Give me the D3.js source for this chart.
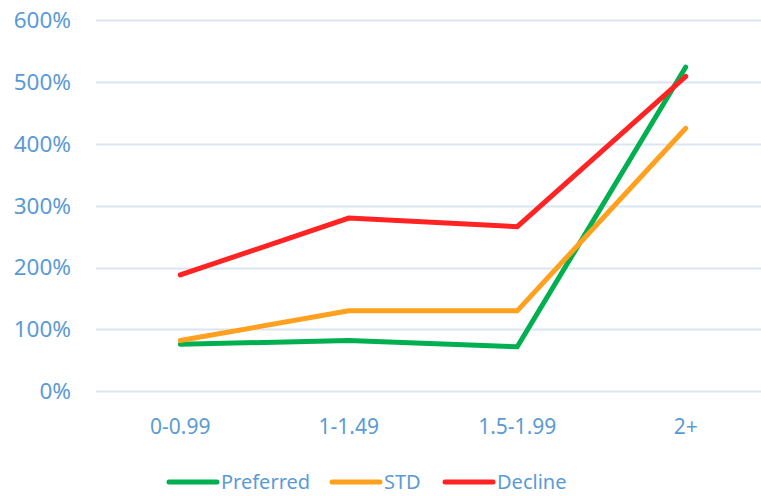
<!doctype html>
<html>

<head>
    <meta charset="utf-8">
    <title>Chart</title>
    <style>
        body {
            margin: 0;
            background: #fff;
        }

        svg text {
            font-family: "Noto Sans", sans-serif;
            fill: #5b9bd5;
        }
    </style>
    <script src="https://cdn.jsdelivr.net/npm/d3@7"></script>
</head>

<body>
    <svg width="761" height="496"></svg>
    <script>
        var categories = ["0-0.99", "1-1.49", "1.5-1.99", "2+"];
        var preferred = [76, 82, 72, 524];
        var std = [82, 130, 130, 425];
        var decline = [188, 280, 266, 509];
        var yTicks = [0, 100, 200, 300, 400, 500, 600];

        var series = [
            { name: "Preferred", values: preferred, color: "#00b050" },
            { name: "STD", values: std, color: "#ffa01e" },
            { name: "Decline", values: decline, color: "#ff2323" }
        ];

        var svg = d3.select("svg");

        var x = d3.scaleBand().domain(categories).range([96, 770]);
        var y = d3.scaleLinear().domain([0, 600]).range([391.3, 20]);

        // gridlines
        svg.append("g")
            .selectAll("line")
            .data(yTicks)
            .enter().append("line")
            .attr("x1", 96)
            .attr("x2", 770)
            .attr("y1", function (d) { return Math.round(y(d)) + 0.5; })
            .attr("y2", function (d) { return Math.round(y(d)) + 0.5; })
            .attr("stroke", "#dae5f2")
            .attr("stroke-width", 2);

        // y labels
        svg.append("g")
            .selectAll("text")
            .data(yTicks)
            .enter().append("text")
            .attr("x", 71)
            .attr("y", function (d) { return y(d); })
            .attr("dy", "0.35em")
            .attr("text-anchor", "end")
            .style("font-size", "22.5px")
            .text(function (d) { return d + "%"; });

        // x labels
        svg.append("g")
            .selectAll("text")
            .data(categories)
            .enter().append("text")
            .attr("x", function (d) { return x(d) + x.bandwidth() / 2; })
            .attr("y", 427)
            .attr("dy", "0.35em")
            .attr("text-anchor", "middle")
            .style("font-size", "21px")
            .text(function (d) { return d; });

        var line = d3.line()
            .x(function (d, i) { return x(categories[i]) + x.bandwidth() / 2; })
            .y(function (d) { return y(d); });

        svg.append("g")
            .selectAll("path")
            .data(series)
            .enter().append("path")
            .attr("d", function (s) { return line(s.values); })
            .attr("fill", "none")
            .attr("stroke", function (s) { return s.color; })
            .attr("stroke-width", 5)
            .attr("stroke-linecap", "round")
            .attr("stroke-linejoin", "miter");

        // legend
        var legendX = [169, 332, 445];
        var leg = svg.append("g")
            .selectAll("g")
            .data(series)
            .enter().append("g")
            .attr("transform", function (s, i) { return "translate(" + legendX[i] + ",482)"; });

        leg.append("line")
            .attr("x1", 0)
            .attr("x2", 48)
            .attr("stroke", function (s) { return s.color; })
            .attr("stroke-width", 5)
            .attr("stroke-linecap", "round");

        leg.append("text")
            .attr("x", 52)
            .attr("dy", "0.35em")
            .style("font-size", "20px")
            .text(function (s) { return s.name; });
    </script>
</body>

</html>
